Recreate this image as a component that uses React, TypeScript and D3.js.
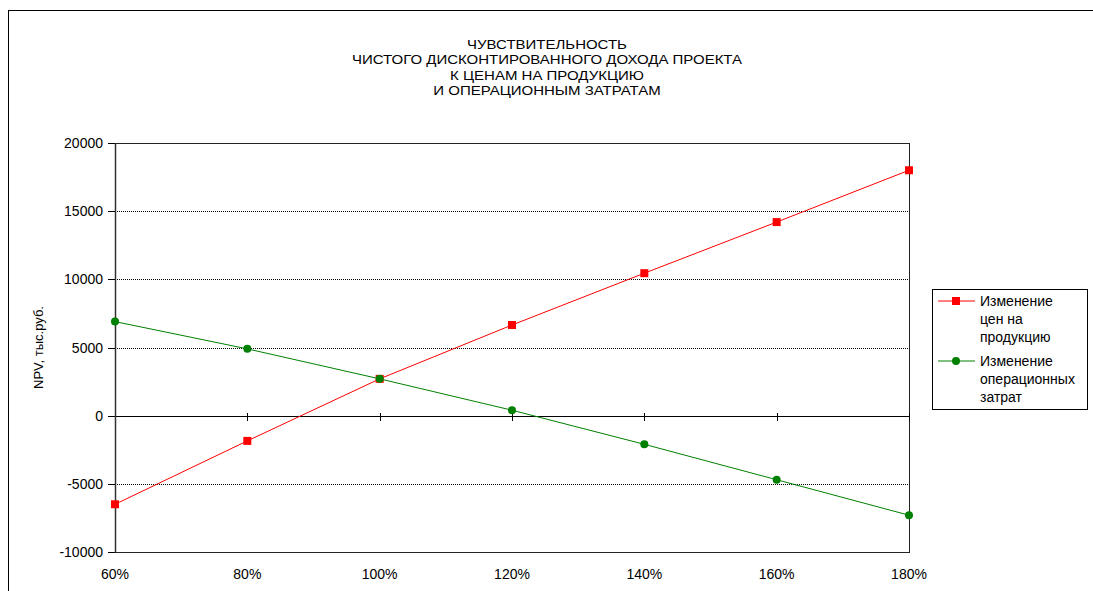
import React from "react";
import * as d3 from "d3";

const categories = ["60%", "80%", "100%", "120%", "140%", "160%", "180%"];
const priceChange = [-6500, -1850, 2700, 6650, 10450, 14200, 18000];
const costChange = [6900, 4900, 2700, 400, -2100, -4700, -7300];
const yTicks = [-10000, -5000, 0, 5000, 10000, 15000, 20000];
const titleLines = [
  "ЧУВСТВИТЕЛЬНОСТЬ",
  "ЧИСТОГО ДИСКОНТИРОВАННОГО ДОХОДА ПРОЕКТА",
  "К ЦЕНАМ НА ПРОДУКЦИЮ",
  "И ОПЕРАЦИОННЫМ ЗАТРАТАМ",
];
const yAxisTitle = "NPV, тыс.руб.";
const legendPrice = ["Изменение", "цен на", "продукцию"];
const legendCost = ["Изменение", "операционных", "затрат"];

const W = 1093;
const H = 591;
const font = "'Liberation Sans', Arial, sans-serif";

export default function App() {
  const left = 115, right = 909, top = 143, bottom = 552;
  const x = d3.scalePoint<string>().domain(categories).range([left, right]).padding(0);
  const y = d3.scaleLinear().domain([-10000, 20000]).range([bottom, top]);
  const line = d3
    .line<number>()
    .x((_, i) => x(categories[i]) as number)
    .y((d) => y(d));

  return (
    <svg width={W} height={H} style={{ position: "absolute", left: 0, top: 0, background: "#fff" }}>
      <rect x={0} y={0} width={W} height={H} fill="#fff" />
      {/* outer chart border */}
      <rect x={8.5} y={10.5} width={W + 20} height={H + 20} fill="none" stroke="#000" strokeWidth={1} />
      {/* title */}
      <g transform="translate(547,0) scale(1.2,1)">
        {titleLines.map((t, i) => (
          <text key={i} x={0} y={49 + i * 15.5} textAnchor="middle" fontFamily={font} fontSize={12.5} fill="#000">
            {t}
          </text>
        ))}
      </g>
      {/* gridlines */}
      {yTicks
        .filter((v) => v !== 0 && v !== -10000 && v !== 20000)
        .map((v) => (
          <line key={v} x1={left} x2={right} y1={Math.round(y(v)) + 0.5} y2={Math.round(y(v)) + 0.5} stroke="#000" strokeWidth={1} strokeDasharray="1,1" />
        ))}
      {/* plot frame */}
      <rect x={left + 0.5} y={Math.round(top) + 0.5} width={right - left} height={bottom - top} fill="none" stroke="#222" strokeWidth={1} />
      {/* zero line */}
      <line x1={left} x2={right} y1={Math.round(y(0)) + 0.5} y2={Math.round(y(0)) + 0.5} stroke="#000" strokeWidth={1} />
      {/* x ticks on zero line */}
      {categories.map((c) => (
        <line key={c} x1={Math.round(x(c) as number) + 0.5} x2={Math.round(x(c) as number) + 0.5} y1={Math.round(y(0)) - 3} y2={Math.round(y(0)) + 5} stroke="#000" strokeWidth={1} />
      ))}
      {/* y axis */}
      <line x1={left + 0.5} x2={left + 0.5} y1={top} y2={bottom} stroke="#333" strokeWidth={1.5} />
      {yTicks.map((v) => (
        <g key={v}>
          <line x1={left - 7} x2={left} y1={Math.round(y(v)) + 0.5} y2={Math.round(y(v)) + 0.5} stroke="#000" strokeWidth={1} />
          <text x={left - 12} y={y(v) + 5} textAnchor="end" fontFamily={font} fontSize={14} fill="#000">
            {v}
          </text>
        </g>
      ))}
      {/* x labels */}
      {categories.map((c) => (
        <text key={c} x={x(c) as number} y={579} textAnchor="middle" fontFamily={font} fontSize={14} fill="#000">
          {c}
        </text>
      ))}
      {/* y axis title */}
      <text transform={`translate(43,${(top + bottom) / 2}) rotate(-90)`} textAnchor="middle" fontFamily={font} fontSize={13} fill="#000">
        {yAxisTitle}
      </text>
      {/* series lines */}
      <path d={line(priceChange) || ""} fill="none" stroke="#ff0000" strokeWidth={1} />
      <path d={line(costChange) || ""} fill="none" stroke="#008000" strokeWidth={1} />
      {priceChange.map((v, i) => (
        <rect key={i} x={(x(categories[i]) as number) - 4} y={y(v) - 4} width={8} height={8} fill="#ff0000" />
      ))}
      {costChange.map((v, i) => (
        <circle key={i} cx={x(categories[i]) as number} cy={y(v)} r={4} fill="#008000" />
      ))}
      {/* legend */}
      <rect x={932.5} y={289.5} width={155} height={120} fill="#fff" stroke="#000" strokeWidth={1} />
      <line x1={938} x2={975} y1={301} y2={301} stroke="#ff0000" strokeWidth={1} />
      <rect x={952} y={297} width={8} height={8} fill="#ff0000" />
      {legendPrice.map((t, i) => (
        <text key={t} x={980} y={306 + i * 18} fontFamily={font} fontSize={14} fill="#000">
          {t}
        </text>
      ))}
      <line x1={938} x2={975} y1={361} y2={361} stroke="#008000" strokeWidth={1} />
      <circle cx={956} cy={361} r={4} fill="#008000" />
      {legendCost.map((t, i) => (
        <text key={t} x={980} y={366 + i * 18} fontFamily={font} fontSize={14} fill="#000">
          {t}
        </text>
      ))}
    </svg>
  );
}
